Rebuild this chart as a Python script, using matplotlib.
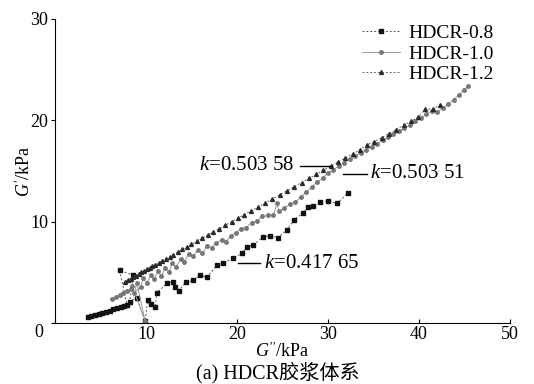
import matplotlib.pyplot as plt

# HDCR-0.8
x08 = [3.6, 4.0, 4.4, 4.8, 5.2, 5.6, 6.0, 6.4, 6.8, 7.2, 7.6, 7.9, 7.1, 8.6, 8.2, 9.0, 9.9, 10.2,
       10.6, 11.0, 11.2, 12.3, 13.0, 13.2, 13.6, 14.4, 15.2, 15.9, 16.7, 17.8, 18.5, 19.6, 20.6,
       21.1, 21.8, 22.9, 23.6, 24.5, 25.5, 26.3, 27.2, 27.8, 28.4, 29.1, 30.0, 31.0, 32.2]
y08 = [0.6, 0.7, 0.8, 0.9, 1.0, 1.1, 1.2, 1.35, 1.5, 1.6, 1.7, 1.8, 5.2, 4.7, 2.1, 2.5, 0.2, 2.3,
       1.9, 1.6, 3.0, 3.9, 4.0, 3.5, 3.2, 4.0, 4.2, 4.7, 4.5, 5.7, 5.9, 6.4, 6.9,
       7.5, 7.7, 8.5, 8.6, 8.4, 9.2, 10.2, 10.8, 11.4, 11.5, 11.9, 12.0, 11.8, 12.8]

# HDCR-1.0
x10 = [6.3, 6.7, 7.1, 7.5, 7.9, 8.3, 8.5, 9.9, 9.0, 8.7, 9.4, 9.7, 10.1, 10.5, 10.9, 11.3, 11.7,
       12.1, 12.5, 12.9, 13.3, 13.8, 14.2, 14.7, 15.2, 15.7, 16.2, 16.7, 17.2, 17.7, 18.3, 18.8,
       19.3, 19.9, 20.4, 21.0, 21.6, 22.2, 22.8, 23.4, 24.0, 24.4, 24.6, 25.2, 25.8, 26.4, 27.0,
       27.6, 28.2, 28.8, 29.4, 30.0, 30.6, 31.2, 31.8, 32.4, 33.0, 33.6, 34.2, 34.8, 35.4, 36.0,
       36.6, 37.2, 37.8, 38.4, 39.0, 39.6, 40.2, 40.8, 41.4, 42.0, 42.6, 43.2, 43.8, 44.4, 45.0, 45.4]
y10 = [2.4, 2.6, 2.8, 3.0, 3.2, 3.3, 3.6, 0.2, 3.9, 3.0, 3.5, 4.4, 3.9, 4.7, 4.3, 5.1, 4.6,
       5.4, 5.0, 5.9, 5.5, 6.3, 6.0, 6.8, 6.6, 7.2, 6.9, 7.6, 7.4, 7.9, 8.2, 8.0,
       8.6, 8.9, 9.3, 9.4, 9.9, 10.1, 10.5, 10.6, 10.6, 11.8, 11.0, 11.3, 11.7, 11.9, 12.4,
       12.9, 13.4, 13.9, 14.3, 14.8, 15.1, 15.5, 15.8, 16.2, 16.5, 16.8, 17.1, 17.4, 17.7, 18.0,
       18.3, 18.6, 18.9, 19.2, 19.5, 19.9, 20.2, 20.6, 20.9, 20.8, 21.2, 21.6, 22.0, 22.5, 23.0, 23.4]

# HDCR-1.2
x12 = [7.7, 8.0, 8.3, 8.6, 8.9, 9.2, 9.5, 9.8, 10.1, 10.4, 10.7, 11.0, 11.4, 11.8, 12.2, 12.6,
       13.0, 13.5, 14.0, 14.5, 15.0, 15.6, 16.2, 16.8, 17.4, 18.0, 18.7, 19.4, 20.1, 20.8, 21.5,
       22.3, 23.1, 23.9, 24.7, 25.5, 26.3, 27.1, 27.9, 28.7, 29.5, 30.3, 31.1, 31.9, 32.7, 33.5,
       34.3, 35.1, 35.9, 36.7, 37.5, 38.3, 39.1, 39.9, 40.7, 41.5, 42.3]
y12 = [4.08, 4.23, 4.38, 4.53, 4.68, 4.83, 4.98, 5.14, 5.29, 5.44, 5.59, 5.74, 5.94, 6.14, 6.34,
       6.55, 6.75, 7.0, 7.25, 7.5, 7.75, 8.06, 8.36, 8.66, 8.96, 9.26, 9.62, 9.97, 10.32, 10.67,
       11.03, 11.43, 11.83, 12.24, 12.64, 13.04, 13.44, 13.85, 14.25, 14.65, 15.06, 15.46, 15.86,
       16.26, 16.67, 17.07, 17.6, 17.88, 18.28, 18.68, 19.08, 19.49, 19.89, 20.29, 21.1, 21.1, 21.5]

serif = ['Liberation Serif', 'Noto Sans CJK SC']
plt.rcParams['font.family'] = serif
plt.rcParams['mathtext.fontset'] = 'custom'
plt.rcParams['mathtext.it'] = 'Liberation Serif:italic'
plt.rcParams['mathtext.rm'] = 'Liberation Serif'

fig = plt.figure(figsize=(5.34, 3.84), dpi=100)
ax = fig.add_axes([0.103, 0.159, 0.852, 0.792])

ax.plot(x08, y08, linestyle=(0, (2, 2)), color='#555555', linewidth=0.7,
        marker='s', markersize=2.3, markerfacecolor='#111111', markeredgecolor='#111111',
        label='HDCR-0.8')
ax.plot(x10, y10, linestyle='-', color='#999999', linewidth=0.7,
        marker='o', markersize=2.5, markerfacecolor='#777777', markeredgecolor='#777777',
        label='HDCR-1.0')
ax.plot(x12, y12, linestyle=(0, (2, 2)), color='#666666', linewidth=0.7,
        marker='^', markersize=2.8, markerfacecolor='#2a2a2a', markeredgecolor='#2a2a2a',
        label='HDCR-1.2')

ax.set_xlim(0, 50)
ax.set_ylim(0, 30)
ax.spines['top'].set_visible(False)
ax.spines['right'].set_visible(False)
ax.set_xticks([0, 10, 20, 30, 40, 50])
ax.set_xticklabels(['', '10', '20', '30', '40', '50'])
ax.set_yticks([0, 10, 20, 30])
ax.set_yticklabels(['', '10', '20', '30'])
ax.tick_params(axis='x', direction='in', length=3, labelsize=13, pad=2)
ax.tick_params(axis='y', direction='out', length=3, labelsize=13, pad=2)
ax.text(-0.025, -0.03, '0', transform=ax.transAxes, fontsize=13, ha='right', va='center')

ax.set_xlabel(r"$G''$/kPa", fontsize=13, labelpad=-1)
ax.set_ylabel(r"$G'$/kPa", fontsize=13, labelpad=-3)
fig.text(0.52, 0.03, '(a) HDCR胶浆体系', fontsize=14.5, ha='center', va='center', family=serif)

# slope annotations
ax.plot([26.9, 30.4], [15.5, 15.5], color='black', linewidth=1)
ax.text(26.3, 15.5, r'$k$=0.503 58', fontsize=15, ha='right', va='center')
ax.plot([31.6, 34.3], [14.7, 14.7], color='black', linewidth=1)
ax.text(34.6, 14.7, r'$k$=0.503 51', fontsize=15, ha='left', va='center')
ax.plot([20.1, 22.5], [5.9, 5.9], color='black', linewidth=1)
ax.text(23.0, 5.9, r'$k$=0.417 65', fontsize=15, ha='left', va='center')

ax.legend(loc='upper right', bbox_to_anchor=(0.99, 1.02), frameon=False, fontsize=14,
          handlelength=2.0, handletextpad=0.4, labelspacing=0.15, borderaxespad=0.2)

fig.savefig('out.png', dpi=100)
